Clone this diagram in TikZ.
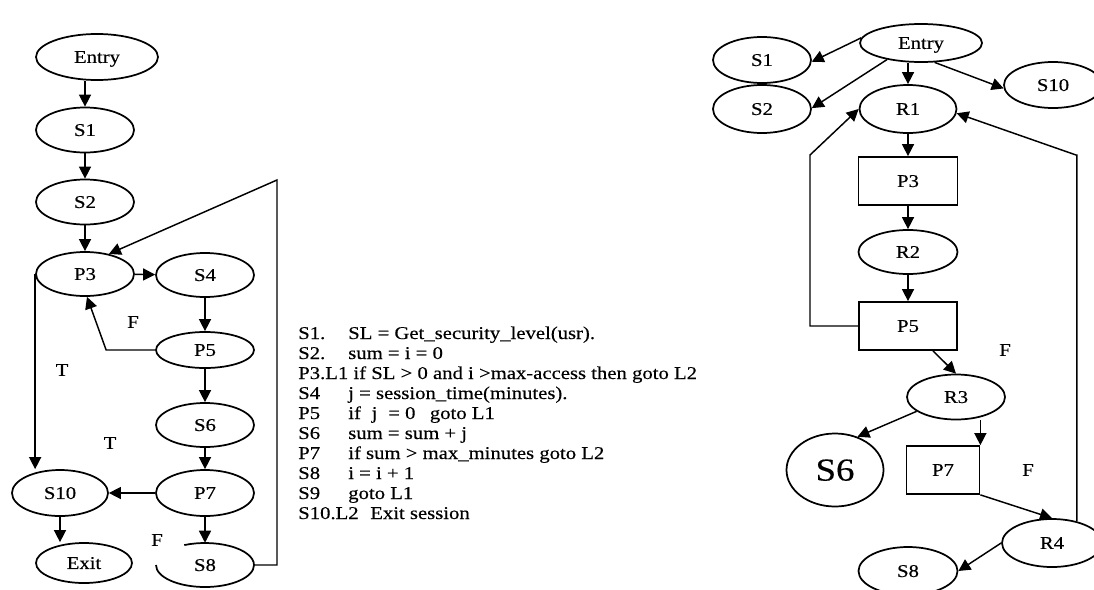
\documentclass[tikz,border=0pt]{standalone}
\usepackage{fontspec}
\setmainfont{Liberation Serif}[FakeStretch=1.15,FakeBold=0.35]
\usetikzlibrary{shapes.geometric,arrows.meta,calc}

\begin{document}
\begin{tikzpicture}[x=0.75pt,y=-0.75pt,
  every node/.style={inner sep=0pt},
  txt/.style={font=\fontsize{13.5}{15}\selectfont},
  oval/.style={ellipse, draw, line width=1.3pt, minimum width=73.5pt,
    minimum height=33.75pt, txt, text depth=0pt},
  bare/.style={ellipse, minimum width=73.5pt, minimum height=33pt, txt, text depth=0pt},
  box/.style={rectangle, draw, line width=1.3pt, minimum width=74.25pt,
    minimum height=36pt, txt, text depth=0pt},
  arr/.style={line width=1.1pt, -{Triangle[length=9pt,width=9pt]}},
  code/.style={txt, anchor=base west},
  tag/.style={txt}]
\useasboundingbox (0,0) rectangle (1094,589);
\clip (0,0) rectangle (1094,589);

% ---------- control flow graph of the session loop ----------
\node[oval, minimum width=91.5pt, minimum height=34.5pt] (EntryL) at (97,57) {Entry};
\node[oval] (S1L) at (85,130) {S1};
\node[oval] (S2L) at (85,202) {S2};
\node[oval, minimum height=33pt] (P3L) at (85,274) {P3};
\node[oval, minimum height=33pt] (S4L) at (205,275) {S4};
\node[oval, minimum height=27pt] (P5L) at (205,350) {P5};
\node[oval, minimum height=33pt] (S6L) at (205,425) {S6};
\node[oval, minimum height=34.5pt] (P7L) at (205,493) {P7};
\node[oval, minimum width=72pt, minimum height=34.5pt] (S10L) at (60,493) {S10};
\node[oval, minimum width=72pt, minimum height=30pt] (ExitL) at (84,563) {Exit};
\node[bare] (S8L) at (205,565) {S8};
% S8 is outlined with an open arc on its upper left
\draw[line width=1.3pt] ([shift={(180:36.75pt and 16.5pt)}]S8L.center)
  arc[start angle=180, end angle=475, x radius=36.75pt, y radius=16.5pt];

\coordinate (loopL) at (277,180);

\draw[arr] (S1L.north |- EntryL.south) -- (S1L.north);
\draw[arr] (S1L) -- (S2L);
\draw[arr] (S2L) -- (P3L);
\draw[arr] (P3L) -- (S4L);
\draw[arr] (S4L) -- (P5L);
\draw[arr] (P5L) -- (S6L);
\draw[arr] (S6L) -- (P7L);
\draw[arr] (P7L) -- (S8L.north);
\draw[arr] (P7L) -- (S10L);
\draw[arr] (S10L.south) -- (S10L.south |- ExitL.north);
\draw[arr] (P3L.west) -- (P3L.west |- S10L.north);
\draw[arr] (P5L.west) -- ++(-49,0) -- (P3L.-85);
\draw[arr] (S8L.east) -| (loopL) -- (P3L.40);

\node[tag] (fL1) at (133,322) {F};
\node[tag] (tL1) at (62,370) {T};
\node[tag] (tL2) at (110,443) {T};
\node[tag] (fL2) at (157,540) {F};

% ---------- program listing ----------
\node[code] (k1) at (298,339) {S1.};
\node[code] (k1b) at (348,339) {SL = Get\_security\_level(usr).};
\node[code] (k2) at (298,359) {S2.};
\node[code] (k2b) at (348,359) {sum = i = 0};
\node[code] (k3) at (298,379) {P3.L1 if SL > 0 and i >max-access then goto L2};
\node[code] (k4) at (298,399) {S4};
\node[code] (k4b) at (348,399) {j = session\_time(minutes).};
\node[code] (k5) at (298,419) {P5};
\node[code] (k5b) at (348,419) {if\hspace{0.6em}j\hspace{0.6em}= 0\hspace{0.8em}goto L1};
\node[code] (k6) at (298,439) {S6};
\node[code] (k6b) at (348,439) {sum = sum + j};
\node[code] (k7) at (298,459) {P7};
\node[code] (k7b) at (348,459) {if sum > max\_minutes goto L2};
\node[code] (k8) at (298,479) {S8};
\node[code] (k8b) at (348,479) {i = i + 1};
\node[code] (k9) at (298,499) {S9};
\node[code] (k9b) at (348,499) {goto L1};
\node[code] (k10) at (298,519) {S10.L2};
\node[code] (k10b) at (370,519) {Exit session};

% ---------- reduced graph ----------
\node[oval, minimum width=91.5pt, minimum height=28.5pt] (EntryR) at (921,43) {Entry};
\node[oval, minimum height=34.5pt] (S1R) at (762,60) {S1};
\node[oval, minimum height=36pt] (S2R) at (762,109) {S2};
\node[oval, minimum height=34.5pt] (S10R) at (1053,85) {S10};
\node[oval, minimum width=72.75pt, minimum height=36pt] (R1) at (908,109) {R1};
\node[box] (P3R) at (908,181) {P3};
\node[oval, minimum width=74.25pt, minimum height=33pt] (R2) at (908,252) {R2};
\node[box, minimum width=73.5pt] (P5R) at (908,326) {P5};
\node[oval, minimum height=33.75pt] (R3) at (956,397) {R3};
\node[oval, minimum width=72.75pt, minimum height=54.75pt,
  font=\fontsize{24}{26}\selectfont] (S6R) at (835,470) {S6};
\node[box, minimum width=54.75pt] (P7R) at (943,470) {P7};
\node[oval, minimum width=75pt, minimum height=36pt] (R4) at (1052,543) {R4};
\node[oval, minimum width=74.25pt, minimum height=36pt] (S8R) at (908,571) {S8};

\coordinate (loopRa) at (810,155);
\coordinate (loopRb) at (1076,155);

\draw[arr] (EntryR.175) -- (S1R.-2);
\draw[arr] (EntryR.206) -- (S2R.1);
\draw[arr] (R1.north |- EntryR.south) -- (R1.north);
\draw[arr] (EntryR.-55) -- (S10R.184);
\draw[arr] (R1) -- (P3R);
\draw[arr] (P3R) -- (R2);
\draw[arr] (R2) -- (P5R);
\draw[arr] (P5R.west) -| (loopRa) -- (R1.west);
\draw[arr] (R4.41) |- (loopRb) -- (R1.-5);
\draw[arr] ($(P5R.south)!0.5!(P5R.south east)$) -- (R3.north);
\draw[arr] (R3.200) -- (S6R.56);
\draw[arr] (P7R.north east |- R3.south) -- (P7R.north east);
\draw[arr] (P7R.south east) -- (R4.north);
\draw[arr] (R4.west) -- (S8R.east);

\node[tag] (fR1) at (1005,350) {F};
\node[tag] (fR2) at (1028,470) {F};
\end{tikzpicture}
\end{document}
